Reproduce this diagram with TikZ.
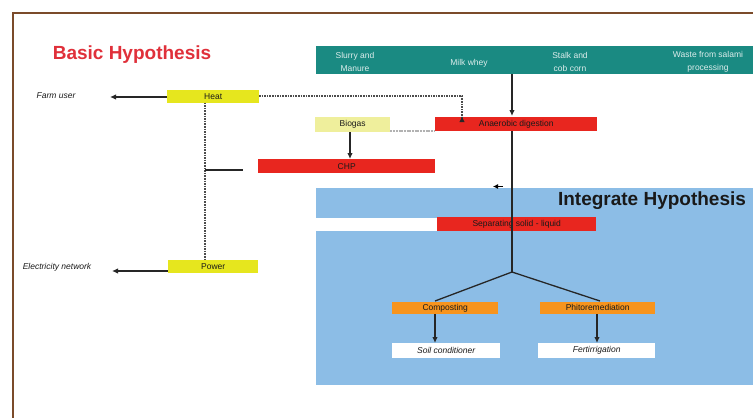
\documentclass[tikz,border=0pt]{standalone}
\usepackage{fontspec}
\setmainfont{Liberation Sans}
\usetikzlibrary{arrows.meta}
\definecolor{framec}{HTML}{7B4B2A}
\definecolor{tealc}{HTML}{1A8A82}
\definecolor{bluec}{HTML}{8CBDE6}
\definecolor{redc}{HTML}{E8261F}
\definecolor{yelc}{HTML}{E6E61E}
\definecolor{lyelc}{HTML}{EFEF9C}
\definecolor{orc}{HTML}{F7941D}
\definecolor{titred}{HTML}{E0303A}
\definecolor{txtc}{HTML}{1A1A1A}
\tikzset{
  box/.style={rectangle, inner sep=0pt, anchor=north west, text=txtc,
    font=\fontsize{8.5}{10}\selectfont},
  feedtxt/.style={align=center, text=white!85!tealc, font=\fontsize{8.5}{13}\selectfont},
  sidetxt/.style={font=\itshape\fontsize{8.5}{10}\selectfont, text=txtc},
  arr/.style={-{Latex[length=6pt,width=5.5pt]}, line width=1.3pt, draw=black!85},
  dotl/.style={dash pattern=on 1.6pt off 1pt, line width=1.8pt, draw=black!70},
  ln/.style={line width=1.3pt, draw=black!85}
}
\begin{document}
\begin{tikzpicture}[x=1pt,y=-1pt]
\useasboundingbox (0,0) rectangle (753,418);
\clip (0,0) rectangle (753,418);
\fill[white] (0,0) rectangle (753,418);
% frame
\draw[framec, line width=2pt] (13,13) rectangle (780,450);
% titles
\node[font=\bfseries\fontsize{19}{22}\selectfont, text=titred] (basic) at (132,55) {Basic Hypothesis};
% feed bar
\node[rectangle, fill=tealc, minimum width=450, minimum height=28, anchor=north west, inner sep=0pt] (feed) at (316,46) {};
\node[feedtxt] (slurry) at (355,61.5) {Slurry and\\Manure};
\node[feedtxt] (whey) at (469,63) {Milk whey};
\node[feedtxt] (stalk) at (570,61.5) {Stalk and\\cob corn};
\node[feedtxt] (waste) at (708,61.5) {Waste from salami\\processing};
% blue integrate region
\node[rectangle, fill=bluec, minimum width=450, minimum height=197, anchor=north west, inner sep=0pt] (integ) at (316,188) {};
\fill[white] (316,217.5) rectangle (437,230.5);
\node[font=\bfseries\fontsize{19}{22}\selectfont, text=black!90] (inttitle) at (652,201) {Integrate Hypothesis};
% boxes
\node[box, fill=yelc, minimum width=92, minimum height=13] (heat) at (167,89.5) {Heat};
\node[box, fill=yelc, minimum width=90, minimum height=12.5] (power) at (168,260) {Power};
\node[box, fill=lyelc, minimum width=75, minimum height=15] (biogas) at (315,117) {Biogas};
\node[box, fill=redc, minimum width=162, minimum height=14] (ad) at (435,117) {Anaerobic digestion};
\node[box, fill=redc, minimum width=177, minimum height=14] (chp) at (258,159) {CHP};
\node[box, fill=redc, minimum width=159, minimum height=14] (sep) at (437,217) {Separating solid - liquid};
\node[box, fill=orc, minimum width=106, minimum height=11.5] (comp) at (392,302) {Composting};
\node[box, fill=orc, minimum width=115, minimum height=11.5] (phito) at (540,302) {Phitoremediation};
\node[box, fill=white, minimum width=108, minimum height=15, font=\itshape\fontsize{8.5}{10}\selectfont] (soil) at (392,343) {Soil conditioner};
\node[box, fill=white, minimum width=117, minimum height=15, font=\itshape\fontsize{8.5}{10}\selectfont] (fert) at (538,343) {Fertirrigation};
% side labels
\node[sidetxt] (farm) at (56,96) {Farm user};
\node[sidetxt] (elec) at (57,267) {Electricity network};
% coordinates
\coordinate (feedtap) at (512,74);
\coordinate (adtop) at (512,116);
\coordinate (adbot) at (512,131);
\coordinate (split) at (512,272);
\coordinate (compin) at (435,301);
\coordinate (phitoin) at (600,301);
\coordinate (farmtip) at (110,97);
\coordinate (electip) at (112,271);
\coordinate (heatout) at (259,96);
\coordinate (heatcorner) at (462,96);
\coordinate (heattip) at (462,116);
\coordinate (heatdown) at (205,102.5);
\coordinate (powertop) at (205,260);
\coordinate (chpbranch) at (205,170);
\coordinate (chpbranchend) at (243,170);
\coordinate (smallarr) at (503,186.5);
\coordinate (smalltip) at (493,186.5);
% connectors
\draw[arr] (feedtap) -- (adtop);
\draw[ln] (adbot) -- (split);
\draw[ln] (split) -- (compin);
\draw[ln] (split) -- (phitoin);
\draw[arr] (comp.south -| compin) -- (soil.north -| compin);
\draw[arr] (phito.south -| 597,0) -- (fert.north -| 597,0);
\draw[arr] (heat.west |- farmtip) -- (farmtip);
\draw[arr] (power.west |- electip) -- (electip);
\draw[dotl] (heatout) -- (heatcorner) -- ([yshift=-5pt]heattip);
\draw[arr] ([yshift=-6pt]heattip) -- (heattip);
\draw[dotl] (heatdown) -- (powertop);
\draw[ln] (chpbranch) -- (chpbranchend);
\draw[line width=2pt, gray!60, dash pattern=on 2pt off 0.7pt] (biogas.east |- 0,130.5) -- (ad.west |- 0,130.5);
\draw[arr] (biogas.south -| 350,0) -- (chp.north -| 350,0);
\draw[-{Latex[length=5pt,width=5pt]}, line width=0.8pt] (smallarr) -- (smalltip);
\end{tikzpicture}
\end{document}
